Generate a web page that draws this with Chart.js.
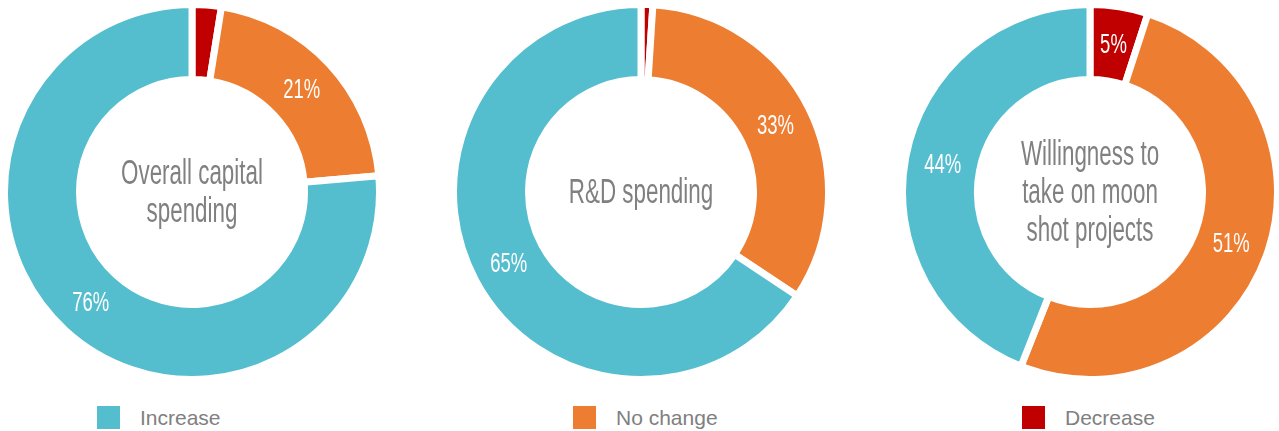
<!DOCTYPE html>
<html>
<head>
<meta charset="utf-8">
<script src="https://cdn.jsdelivr.net/npm/chart.js@4"></script>
<style>
  html, body { margin: 0; padding: 0; background: #fff; }
  #wrap { position: relative; width: 1279px; height: 431px; overflow: hidden; }
  .pie { position: absolute; top: 1px; width: 382px; height: 382px; }
  .legend { position: absolute; top: 406px; font: 21px "Liberation Sans", Arial, sans-serif; color: #808080; }
  .legend span.box { position: absolute; top: 0; width: 23px; height: 23px; }
  .legend span.txt { position: absolute; top: -1px; white-space: nowrap; line-height: 25px; }
</style>
</head>
<body>
<div id="wrap">
  <canvas id="c1" class="pie" style="left:1px"></canvas>
  <canvas id="c2" class="pie" style="left:450px"></canvas>
  <canvas id="c3" class="pie" style="left:899px"></canvas>
  <div class="legend" id="legend"></div>
</div>
<script>
// slices clockwise from the top: Decrease, No change, Increase
const categories = ["Decrease", "No change", "Increase"];
const colors = ["#C00000", "#ED7D31", "#55BECE"];
const titles = [
  ["Overall capital", "spending"],
  ["R&D spending"],
  ["Willingness to", "take on moon", "shot projects"]
];
const capitalSpending = [2.5, 21, 76];
const rdSpending = [1, 33, 65];
const moonShot = [5, 51, 44];

// legend order and x positions
const legendOrder = ["Increase", "No change", "Decrease"];
const legendX = [97, 573, 1022];

// no condensed face installed, so squeeze a plain sans horizontally
const narrow = '"Liberation Sans", Arial, sans-serif';

// percent labels + center title
const donutText = {
  id: 'donutText',
  afterDatasetsDraw(chart, args, opts) {
    const ctx = chart.ctx;
    const meta = chart.getDatasetMeta(0);
    const values = chart.data.datasets[0].data;
    ctx.save();
    ctx.textAlign = 'center';
    ctx.textBaseline = 'middle';
    ctx.fillStyle = '#ffffff';
    ctx.font = '28px ' + narrow;
    meta.data.forEach((arc, i) => {
      if (values[i] < 4) return;
      const p = arc.tooltipPosition();
      ctx.save();
      ctx.translate(p.x, p.y);
      ctx.scale(0.66, 1);
      ctx.fillText(values[i] + '%', 0, 1);
      ctx.restore();
    });
    const a = meta.data[0];
    const lines = opts.lines || [];
    const lh = 38;
    ctx.fillStyle = '#808080';
    ctx.font = '35px ' + narrow;
    lines.forEach((ln, k) => {
      const y = a.y + (k - (lines.length - 1) / 2) * lh;
      ctx.save();
      ctx.translate(a.x, y);
      ctx.scale(0.64, 1);
      ctx.fillText(ln, 0, 1);
      ctx.restore();
    });
    ctx.restore();
  }
};

function makeDonut(id, values, lines) {
  return new Chart(document.getElementById(id), {
    type: 'doughnut',
    data: {
      labels: categories,
      datasets: [{
        data: values,
        backgroundColor: colors,
        borderColor: '#ffffff',
        borderWidth: 7,
        hoverOffset: 0
      }]
    },
    options: {
      responsive: false,
      animation: false,
      cutout: '60%',
      rotation: 0,
      layout: { padding: 0 },
      plugins: {
        legend: { display: false },
        tooltip: { enabled: false },
        donutText: { lines: lines }
      }
    },
    plugins: [donutText]
  });
}

[['c1', capitalSpending], ['c2', rdSpending], ['c3', moonShot]].forEach((c, i) => {
  const el = document.getElementById(c[0]);
  el.width = 382; el.height = 382;
  makeDonut(c[0], c[1], titles[i]);
});

// shared legend under the three rings
const legend = document.getElementById('legend');
legendOrder.forEach((name, i) => {
  const col = colors[categories.indexOf(name)];
  legend.insertAdjacentHTML('beforeend',
    '<span class="box" style="left:' + legendX[i] + 'px;background:' + col + '"></span>' +
    '<span class="txt" style="left:' + (legendX[i] + 43) + 'px">' + name + '</span>');
});
</script>
</body>
</html>
